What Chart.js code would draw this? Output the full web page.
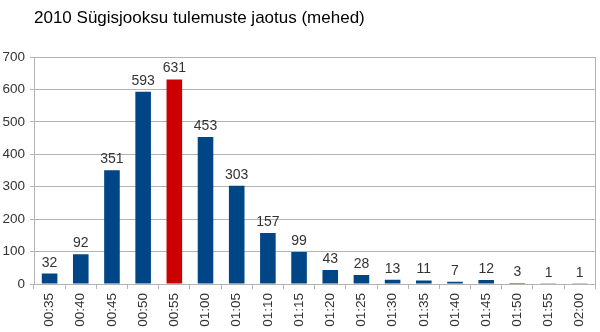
<!DOCTYPE html>
<html>
<head>
<meta charset="utf-8">
<script src="https://cdn.jsdelivr.net/npm/chart.js@4/dist/chart.umd.min.js"></script>
<style>
  html, body { margin: 0; padding: 0; background: #fff; }
  #wrap { width: 600px; height: 332px; position: relative; }
</style>
</head>
<body>
<div id="wrap"><canvas id="chart"></canvas></div>
<script>
// Andmed
const chartTitle = '2010 Sügisjooksu tulemuste jaotus (mehed)';
const times = ['00:35', '00:40', '00:45', '00:50', '00:55', '01:00', '01:05', '01:10', '01:15',
               '01:20', '01:25', '01:30', '01:35', '01:40', '01:45', '01:50', '01:55', '02:00'];
const runners = [32, 92, 351, 593, 631, 453, 303, 157, 99, 43, 28, 13, 11, 7, 12, 3, 1, 1];
const highlightIndex = 4; // 00:55 punasena

const FONT = '"Liberation Sans", Arial, sans-serif';
const TEXT = '#333333';
const GRID = '#b3b3b3';

// Pealkiri, väärtused tulpade kohal ja parem serv
const extras = {
    id: 'extras',
    afterDraw(chart) {
        const ctx = chart.ctx;
        const area = chart.chartArea;
        ctx.save();

        ctx.fillStyle = '#000';
        ctx.font = '17px ' + FONT;
        ctx.textAlign = 'left';
        ctx.textBaseline = 'alphabetic';
        ctx.fillText(chartTitle, area.left, 23);

        ctx.fillStyle = TEXT;
        ctx.font = '14px ' + FONT;
        ctx.textAlign = 'center';
        chart.getDatasetMeta(0).data.forEach((bar, i) => {
            ctx.fillText(String(runners[i]), bar.x, bar.y - 7);
        });

        ctx.strokeStyle = GRID;
        ctx.lineWidth = 1;
        ctx.beginPath();
        ctx.moveTo(Math.round(area.right) + 0.5, area.top);
        ctx.lineTo(Math.round(area.right) + 0.5, area.bottom);
        ctx.stroke();
        ctx.restore();
    }
};

new Chart(document.getElementById('chart').getContext('2d'), {
    type: 'bar',
    data: {
        labels: times,
        datasets: [{
            data: runners,
            backgroundColor: runners.map((v, i) => i === highlightIndex ? '#cc0000' : '#004586'),
            borderWidth: 0,
            barPercentage: 0.5,
            categoryPercentage: 1.0
        }]
    },
    options: {
        responsive: true,
        maintainAspectRatio: false,
        animation: false,
        layout: { padding: { top: 57, right: 3, left: 0, bottom: 0 } },
        plugins: {
            legend: { display: false },
            tooltip: { enabled: false }
        },
        scales: {
            x: {
                grid: {
                    offset: true,
                    drawOnChartArea: false,
                    color: GRID,
                    tickLength: 5
                },
                border: { color: GRID },
                ticks: {
                    color: TEXT,
                    font: { family: FONT, size: 13.5 },
                    minRotation: 90,
                    maxRotation: 90,
                    autoSkip: false,
                    padding: 4
                },
                afterFit(scale) { scale.height = 48; }
            },
            y: {
                min: 0,
                max: 700,
                ticks: {
                    stepSize: 100,
                    color: TEXT,
                    font: { family: FONT, size: 13.5 },
                    padding: 5
                },
                grid: { color: GRID, tickLength: 4 },
                border: { color: GRID },
                afterFit(scale) { scale.width = 34; }
            }
        }
    },
    plugins: [extras]
});
</script>
</body>
</html>
